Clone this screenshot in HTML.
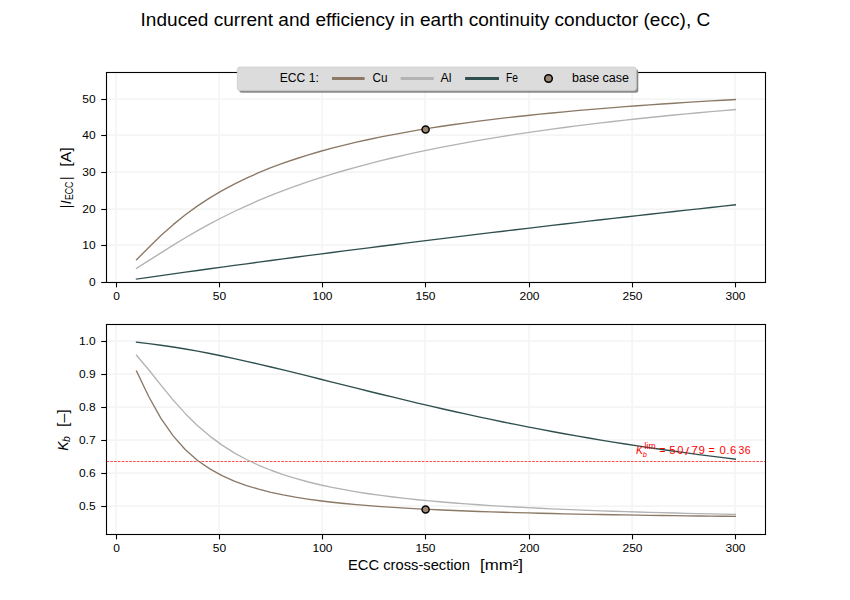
<!DOCTYPE html><html><head><meta charset="utf-8"><style>html,body{margin:0;padding:0;background:#fff;}svg{display:block;}text{font-family:"Liberation Sans",sans-serif;}</style></head><body>
<svg width="850" height="600" viewBox="0 0 850 600">
<rect width="850" height="600" fill="#fff"/>
<text x="425.4" y="26.2" font-size="17.5" text-anchor="middle" textLength="569.7" lengthAdjust="spacingAndGlyphs" fill="#000">Induced current and efficiency in earth continuity conductor (ecc), C</text>
<line x1="116.1" y1="72" x2="116.1" y2="283" stroke="#f5f5f5" stroke-width="1.8"/>
<line x1="219.1" y1="72" x2="219.1" y2="283" stroke="#f5f5f5" stroke-width="1.8"/>
<line x1="322.1" y1="72" x2="322.1" y2="283" stroke="#f5f5f5" stroke-width="1.8"/>
<line x1="425.1" y1="72" x2="425.1" y2="283" stroke="#f5f5f5" stroke-width="1.8"/>
<line x1="529.1" y1="72" x2="529.1" y2="283" stroke="#f5f5f5" stroke-width="1.8"/>
<line x1="632.1" y1="72" x2="632.1" y2="283" stroke="#f5f5f5" stroke-width="1.8"/>
<line x1="735.1" y1="72" x2="735.1" y2="283" stroke="#f5f5f5" stroke-width="1.8"/>
<line x1="106" y1="282.1" x2="766" y2="282.1" stroke="#f5f5f5" stroke-width="1.8"/>
<line x1="106" y1="245.1" x2="766" y2="245.1" stroke="#f5f5f5" stroke-width="1.8"/>
<line x1="106" y1="209.1" x2="766" y2="209.1" stroke="#f5f5f5" stroke-width="1.8"/>
<line x1="106" y1="172.1" x2="766" y2="172.1" stroke="#f5f5f5" stroke-width="1.8"/>
<line x1="106" y1="135.1" x2="766" y2="135.1" stroke="#f5f5f5" stroke-width="1.8"/>
<line x1="106" y1="99.1" x2="766" y2="99.1" stroke="#f5f5f5" stroke-width="1.8"/>
<path d="M136.49,259.78 L148.71,247.51 L160.94,235.58 L173.16,224.63 L185.38,214.73 L197.60,205.83 L209.82,197.82 L222.05,190.59 L234.27,184.05 L246.49,178.11 L258.71,172.69 L270.93,167.73 L283.15,163.18 L295.38,158.99 L307.60,155.11 L319.82,151.52 L332.04,148.19 L344.26,145.09 L356.48,142.19 L368.71,139.48 L380.93,136.94 L393.15,134.55 L405.37,132.30 L417.59,130.18 L429.81,128.18 L442.04,126.29 L454.26,124.50 L466.48,122.80 L478.70,121.19 L490.92,119.65 L503.14,118.19 L515.37,116.79 L527.59,115.46 L539.81,114.19 L552.03,112.98 L564.25,111.82 L576.47,110.70 L588.70,109.63 L600.92,108.61 L613.14,107.62 L625.36,106.67 L637.58,105.76 L649.80,104.88 L662.03,104.04 L674.25,103.22 L686.47,102.44 L698.69,101.68 L710.91,100.94 L723.14,100.24 L735.36,99.55" fill="none" stroke="#8b7865" stroke-width="1.35" stroke-linecap="square" stroke-linejoin="round"/>
<path d="M136.49,268.38 L148.71,260.69 L160.94,252.85 L173.16,245.14 L185.38,237.71 L197.60,230.61 L209.82,223.87 L222.05,217.51 L234.27,211.49 L246.49,205.83 L258.71,200.48 L270.93,195.44 L283.15,190.68 L295.38,186.18 L307.60,181.93 L319.82,177.91 L332.04,174.09 L344.26,170.48 L356.48,167.05 L368.71,163.78 L380.93,160.68 L393.15,157.72 L405.37,154.90 L417.59,152.21 L429.81,149.64 L442.04,147.18 L454.26,144.83 L466.48,142.58 L478.70,140.42 L490.92,138.34 L503.14,136.35 L515.37,134.44 L527.59,132.60 L539.81,130.83 L552.03,129.13 L564.25,127.49 L576.47,125.90 L588.70,124.38 L600.92,122.90 L613.14,121.48 L625.36,120.10 L637.58,118.77 L649.80,117.48 L662.03,116.23 L674.25,115.02 L686.47,113.85 L698.69,112.72 L710.91,111.61 L723.14,110.55 L735.36,109.51" fill="none" stroke="#b3b3b3" stroke-width="1.35" stroke-linecap="square" stroke-linejoin="round"/>
<path d="M136.49,279.08 L148.71,277.31 L160.94,275.58 L173.16,273.86 L185.38,272.16 L197.60,270.46 L209.82,268.78 L222.05,267.11 L234.27,265.45 L246.49,263.80 L258.71,262.16 L270.93,260.52 L283.15,258.90 L295.38,257.29 L307.60,255.69 L319.82,254.09 L332.04,252.51 L344.26,250.93 L356.48,249.36 L368.71,247.80 L380.93,246.25 L393.15,244.71 L405.37,243.18 L417.59,241.66 L429.81,240.14 L442.04,238.64 L454.26,237.14 L466.48,235.65 L478.70,234.17 L490.92,232.69 L503.14,231.23 L515.37,229.77 L527.59,228.32 L539.81,226.88 L552.03,225.44 L564.25,224.02 L576.47,222.60 L588.70,221.19 L600.92,219.78 L613.14,218.39 L625.36,217.00 L637.58,215.62 L649.80,214.24 L662.03,212.88 L674.25,211.52 L686.47,210.16 L698.69,208.82 L710.91,207.48 L723.14,206.15 L735.36,204.82" fill="none" stroke="#2f4f4f" stroke-width="1.35" stroke-linecap="square" stroke-linejoin="round"/>
<circle cx="425.59976489028213" cy="129.5" r="3.55" fill="#9a8670" stroke="#000" stroke-width="1.5"/>
<rect x="106.5" y="72.5" width="659" height="210" fill="none" stroke="#000" stroke-width="1.1"/>
<line x1="116.5" y1="282.5" x2="116.5" y2="287.4" stroke="#000" stroke-width="1.1"/>
<line x1="219.5" y1="282.5" x2="219.5" y2="287.4" stroke="#000" stroke-width="1.1"/>
<line x1="322.5" y1="282.5" x2="322.5" y2="287.4" stroke="#000" stroke-width="1.1"/>
<line x1="425.5" y1="282.5" x2="425.5" y2="287.4" stroke="#000" stroke-width="1.1"/>
<line x1="529.5" y1="282.5" x2="529.5" y2="287.4" stroke="#000" stroke-width="1.1"/>
<line x1="632.5" y1="282.5" x2="632.5" y2="287.4" stroke="#000" stroke-width="1.1"/>
<line x1="735.5" y1="282.5" x2="735.5" y2="287.4" stroke="#000" stroke-width="1.1"/>
<line x1="101.2" y1="282.5" x2="106.5" y2="282.5" stroke="#000" stroke-width="1.1"/>
<line x1="101.2" y1="245.5" x2="106.5" y2="245.5" stroke="#000" stroke-width="1.1"/>
<line x1="101.2" y1="209.5" x2="106.5" y2="209.5" stroke="#000" stroke-width="1.1"/>
<line x1="101.2" y1="172.5" x2="106.5" y2="172.5" stroke="#000" stroke-width="1.1"/>
<line x1="101.2" y1="135.5" x2="106.5" y2="135.5" stroke="#000" stroke-width="1.1"/>
<line x1="101.2" y1="99.5" x2="106.5" y2="99.5" stroke="#000" stroke-width="1.1"/>
<line x1="116.1" y1="324" x2="116.1" y2="535" stroke="#f5f5f5" stroke-width="1.8"/>
<line x1="219.1" y1="324" x2="219.1" y2="535" stroke="#f5f5f5" stroke-width="1.8"/>
<line x1="322.1" y1="324" x2="322.1" y2="535" stroke="#f5f5f5" stroke-width="1.8"/>
<line x1="425.1" y1="324" x2="425.1" y2="535" stroke="#f5f5f5" stroke-width="1.8"/>
<line x1="529.1" y1="324" x2="529.1" y2="535" stroke="#f5f5f5" stroke-width="1.8"/>
<line x1="632.1" y1="324" x2="632.1" y2="535" stroke="#f5f5f5" stroke-width="1.8"/>
<line x1="735.1" y1="324" x2="735.1" y2="535" stroke="#f5f5f5" stroke-width="1.8"/>
<line x1="106" y1="506.1" x2="766" y2="506.1" stroke="#f5f5f5" stroke-width="1.8"/>
<line x1="106" y1="473.1" x2="766" y2="473.1" stroke="#f5f5f5" stroke-width="1.8"/>
<line x1="106" y1="440.1" x2="766" y2="440.1" stroke="#f5f5f5" stroke-width="1.8"/>
<line x1="106" y1="407.1" x2="766" y2="407.1" stroke="#f5f5f5" stroke-width="1.8"/>
<line x1="106" y1="374.1" x2="766" y2="374.1" stroke="#f5f5f5" stroke-width="1.8"/>
<line x1="106" y1="341.1" x2="766" y2="341.1" stroke="#f5f5f5" stroke-width="1.8"/>
<line x1="106.5" y1="461.5" x2="765.5" y2="461.5" stroke="#ff0000" stroke-width="0.7" stroke-dasharray="2.6,1.2"/>
<path d="M136.49,371.16 L148.71,396.47 L160.94,418.36 L173.16,435.92 L185.38,449.68 L197.60,460.43 L209.82,468.89 L222.05,475.64 L234.27,481.08 L246.49,485.53 L258.71,489.21 L270.93,492.30 L283.15,494.91 L295.38,497.15 L307.60,499.07 L319.82,500.74 L332.04,502.21 L344.26,503.50 L356.48,504.65 L368.71,505.67 L380.93,506.58 L393.15,507.41 L405.37,508.16 L417.59,508.84 L429.81,509.45 L442.04,510.02 L454.26,510.54 L466.48,511.02 L478.70,511.46 L490.92,511.87 L503.14,512.25 L515.37,512.61 L527.59,512.94 L539.81,513.25 L552.03,513.53 L564.25,513.81 L576.47,514.06 L588.70,514.30 L600.92,514.53 L613.14,514.74 L625.36,514.94 L637.58,515.14 L649.80,515.32 L662.03,515.49 L674.25,515.65 L686.47,515.81 L698.69,515.96 L710.91,516.10 L723.14,516.24 L735.36,516.37" fill="none" stroke="#8b7865" stroke-width="1.35" stroke-linecap="square" stroke-linejoin="round"/>
<path d="M136.49,355.31 L148.71,369.72 L160.94,385.16 L173.16,400.08 L185.38,413.67 L197.60,425.68 L209.82,436.11 L222.05,445.10 L234.27,452.84 L246.49,459.50 L258.71,465.26 L270.93,470.25 L283.15,474.60 L295.38,478.41 L307.60,481.76 L319.82,484.72 L332.04,487.36 L344.26,489.71 L356.48,491.82 L368.71,493.72 L380.93,495.44 L393.15,496.99 L405.37,498.41 L417.59,499.71 L429.81,500.89 L442.04,501.99 L454.26,502.99 L466.48,503.92 L478.70,504.78 L490.92,505.58 L503.14,506.32 L515.37,507.02 L527.59,507.66 L539.81,508.27 L552.03,508.84 L564.25,509.37 L576.47,509.88 L588.70,510.35 L600.92,510.80 L613.14,511.22 L625.36,511.62 L637.58,512.00 L649.80,512.36 L662.03,512.70 L674.25,513.03 L686.47,513.34 L698.69,513.63 L710.91,513.92 L723.14,514.19 L735.36,514.44" fill="none" stroke="#b3b3b3" stroke-width="1.35" stroke-linecap="square" stroke-linejoin="round"/>
<path d="M136.49,342.23 L148.71,343.61 L160.94,345.21 L173.16,347.02 L185.38,349.02 L197.60,351.20 L209.82,353.53 L222.05,356.01 L234.27,358.61 L246.49,361.32 L258.71,364.12 L270.93,367.00 L283.15,369.94 L295.38,372.93 L307.60,375.96 L319.82,379.01 L332.04,382.07 L344.26,385.13 L356.48,388.18 L368.71,391.22 L380.93,394.23 L393.15,397.21 L405.37,400.16 L417.59,403.07 L429.81,405.93 L442.04,408.74 L454.26,411.50 L466.48,414.20 L478.70,416.85 L490.92,419.44 L503.14,421.97 L515.37,424.45 L527.59,426.86 L539.81,429.21 L552.03,431.50 L564.25,433.73 L576.47,435.91 L588.70,438.02 L600.92,440.08 L613.14,442.08 L625.36,444.02 L637.58,445.91 L649.80,447.74 L662.03,449.53 L674.25,451.26 L686.47,452.94 L698.69,454.57 L710.91,456.16 L723.14,457.70 L735.36,459.20" fill="none" stroke="#2f4f4f" stroke-width="1.35" stroke-linecap="square" stroke-linejoin="round"/>
<circle cx="425.59976489028213" cy="509.5" r="3.55" fill="#9a8670" stroke="#000" stroke-width="1.5"/>
<rect x="106.5" y="324.5" width="659" height="210" fill="none" stroke="#000" stroke-width="1.1"/>
<line x1="116.5" y1="534.5" x2="116.5" y2="539.4" stroke="#000" stroke-width="1.1"/>
<line x1="219.5" y1="534.5" x2="219.5" y2="539.4" stroke="#000" stroke-width="1.1"/>
<line x1="322.5" y1="534.5" x2="322.5" y2="539.4" stroke="#000" stroke-width="1.1"/>
<line x1="425.5" y1="534.5" x2="425.5" y2="539.4" stroke="#000" stroke-width="1.1"/>
<line x1="529.5" y1="534.5" x2="529.5" y2="539.4" stroke="#000" stroke-width="1.1"/>
<line x1="632.5" y1="534.5" x2="632.5" y2="539.4" stroke="#000" stroke-width="1.1"/>
<line x1="735.5" y1="534.5" x2="735.5" y2="539.4" stroke="#000" stroke-width="1.1"/>
<line x1="101.2" y1="506.5" x2="106.5" y2="506.5" stroke="#000" stroke-width="1.1"/>
<line x1="101.2" y1="473.5" x2="106.5" y2="473.5" stroke="#000" stroke-width="1.1"/>
<line x1="101.2" y1="440.5" x2="106.5" y2="440.5" stroke="#000" stroke-width="1.1"/>
<line x1="101.2" y1="407.5" x2="106.5" y2="407.5" stroke="#000" stroke-width="1.1"/>
<line x1="101.2" y1="374.5" x2="106.5" y2="374.5" stroke="#000" stroke-width="1.1"/>
<line x1="101.2" y1="341.5" x2="106.5" y2="341.5" stroke="#000" stroke-width="1.1"/>
<text transform="translate(116.5,300.1) scale(1.1,1)" font-size="10.9" text-anchor="middle" fill="#000">0</text>
<text transform="translate(116.5,552.0) scale(1.1,1)" font-size="10.9" text-anchor="middle" fill="#000">0</text>
<text transform="translate(219.5,300.1) scale(1.1,1)" font-size="10.9" text-anchor="middle" fill="#000">50</text>
<text transform="translate(219.5,552.0) scale(1.1,1)" font-size="10.9" text-anchor="middle" fill="#000">50</text>
<text transform="translate(322.5,300.1) scale(1.1,1)" font-size="10.9" text-anchor="middle" fill="#000">100</text>
<text transform="translate(322.5,552.0) scale(1.1,1)" font-size="10.9" text-anchor="middle" fill="#000">100</text>
<text transform="translate(425.5,300.1) scale(1.1,1)" font-size="10.9" text-anchor="middle" fill="#000">150</text>
<text transform="translate(425.5,552.0) scale(1.1,1)" font-size="10.9" text-anchor="middle" fill="#000">150</text>
<text transform="translate(529.5,300.1) scale(1.1,1)" font-size="10.9" text-anchor="middle" fill="#000">200</text>
<text transform="translate(529.5,552.0) scale(1.1,1)" font-size="10.9" text-anchor="middle" fill="#000">200</text>
<text transform="translate(632.5,300.1) scale(1.1,1)" font-size="10.9" text-anchor="middle" fill="#000">250</text>
<text transform="translate(632.5,552.0) scale(1.1,1)" font-size="10.9" text-anchor="middle" fill="#000">250</text>
<text transform="translate(735.5,300.1) scale(1.1,1)" font-size="10.9" text-anchor="middle" fill="#000">300</text>
<text transform="translate(735.5,552.0) scale(1.1,1)" font-size="10.9" text-anchor="middle" fill="#000">300</text>
<text transform="translate(95.6,286.4) scale(1.1,1)" font-size="10.9" text-anchor="end" fill="#000">0</text>
<text transform="translate(95.6,249.4) scale(1.1,1)" font-size="10.9" text-anchor="end" fill="#000">10</text>
<text transform="translate(95.6,213.4) scale(1.1,1)" font-size="10.9" text-anchor="end" fill="#000">20</text>
<text transform="translate(95.6,176.4) scale(1.1,1)" font-size="10.9" text-anchor="end" fill="#000">30</text>
<text transform="translate(95.6,139.4) scale(1.1,1)" font-size="10.9" text-anchor="end" fill="#000">40</text>
<text transform="translate(95.6,103.4) scale(1.1,1)" font-size="10.9" text-anchor="end" fill="#000">50</text>
<text transform="translate(95.6,510.4) scale(1.1,1)" font-size="10.9" text-anchor="end" fill="#000">0.5</text>
<text transform="translate(95.6,477.4) scale(1.1,1)" font-size="10.9" text-anchor="end" fill="#000">0.6</text>
<text transform="translate(95.6,444.4) scale(1.1,1)" font-size="10.9" text-anchor="end" fill="#000">0.7</text>
<text transform="translate(95.6,411.4) scale(1.1,1)" font-size="10.9" text-anchor="end" fill="#000">0.8</text>
<text transform="translate(95.6,378.4) scale(1.1,1)" font-size="10.9" text-anchor="end" fill="#000">0.9</text>
<text transform="translate(95.6,345.4) scale(1.1,1)" font-size="10.9" text-anchor="end" fill="#000">1.0</text>
<text x="348.0" y="570.1" font-size="13.9" textLength="122" lengthAdjust="spacingAndGlyphs" fill="#000">ECC cross-section</text>
<text x="480.0" y="570.1" font-size="13.9" textLength="43" lengthAdjust="spacingAndGlyphs" fill="#000">[mm²]</text>
<g transform="translate(71.0,208.35) rotate(-90)">
<text x="0" y="0" font-size="13.9" fill="#000">|</text>
<text x="4" y="0" font-size="13.9" font-style="italic" fill="#000">I</text>
<text x="8.3" y="1.5" font-size="10.2" textLength="18.5" lengthAdjust="spacingAndGlyphs" fill="#000">ECC</text>
<text x="28.4" y="0" font-size="13.9" fill="#000">|</text>
<text x="41.6" y="0" font-size="13.9" textLength="19.5" lengthAdjust="spacingAndGlyphs" fill="#000">[A]</text>
</g>
<g transform="translate(68.0,450.8) rotate(-90)">
<text x="0" y="0" font-size="13.9" font-style="italic" fill="#000">K</text>
<text x="8.9" y="1.5" font-size="10.5" font-style="italic" fill="#000">b</text>
<text x="23.8" y="0" font-size="13.9" textLength="17.7" lengthAdjust="spacingAndGlyphs" fill="#000">[–]</text>
</g>
<text x="636" y="454.2" font-size="10.5" font-style="italic" fill="#ff0000">K</text>
<text x="642.7" y="457.4" font-size="7.4" font-style="italic" fill="#ff0000">b</text>
<text x="644.6" y="449.3" font-size="8.6" fill="#ff0000">lim</text>
<text transform="translate(662.35,454.2) scale(1.0,1)" font-size="10.5" text-anchor="middle" fill="#ff0000">=</text>
<text transform="translate(672.4,454.2) scale(1.1,1)" font-size="10.5" text-anchor="middle" fill="#ff0000">5</text>
<text transform="translate(680.35,454.2) scale(1.05,1)" font-size="10.5" text-anchor="middle" fill="#ff0000">0</text>
<text transform="translate(687.05,455.2) scale(1.2,1)" font-size="11.5" text-anchor="middle" fill="#ff0000">/</text>
<text transform="translate(694.6,454.2) scale(1.15,1)" font-size="10.5" text-anchor="middle" fill="#ff0000">7</text>
<text transform="translate(701.7,454.2) scale(1.1,1)" font-size="10.5" text-anchor="middle" fill="#ff0000">9</text>
<text transform="translate(711.45,454.2) scale(1.0,1)" font-size="10.5" text-anchor="middle" fill="#ff0000">=</text>
<text transform="translate(722.55,454.2) scale(1.08,1)" font-size="10.5" text-anchor="middle" fill="#ff0000">0</text>
<text transform="translate(728.0,454.2) scale(1.0,1)" font-size="10.5" text-anchor="middle" fill="#ff0000">.</text>
<text transform="translate(733.15,454.2) scale(1.08,1)" font-size="10.5" text-anchor="middle" fill="#ff0000">6</text>
<text transform="translate(741.45,454.2) scale(1.0,1)" font-size="10.5" text-anchor="middle" fill="#ff0000">3</text>
<text transform="translate(747.75,454.2) scale(1.0,1)" font-size="10.5" text-anchor="middle" fill="#ff0000">6</text>
<rect x="239.3" y="69.3" width="399" height="23.5" rx="2.5" fill="#8a8a8a"/>
<rect x="237.3" y="67.1" width="399" height="23.5" rx="2.5" fill="#dcdcdc" stroke="#cdcdcd" stroke-width="0.8"/>
<text x="279.8" y="82" font-size="12" textLength="39" lengthAdjust="spacingAndGlyphs" fill="#000">ECC 1:</text>
<text x="372.5" y="82" font-size="12" textLength="15" lengthAdjust="spacingAndGlyphs" fill="#000">Cu</text>
<text x="440.5" y="82" font-size="12" textLength="11" lengthAdjust="spacingAndGlyphs" fill="#000">Al</text>
<text x="506" y="82" font-size="12" textLength="12" lengthAdjust="spacingAndGlyphs" fill="#000">Fe</text>
<text x="572" y="82" font-size="12" textLength="57" lengthAdjust="spacingAndGlyphs" fill="#000">base case</text>
<line x1="332" y1="78.4" x2="364.6" y2="78.4" stroke="#8b7865" stroke-width="3"/>
<line x1="400.7" y1="78.4" x2="433.7" y2="78.4" stroke="#b3b3b3" stroke-width="3"/>
<line x1="465.1" y1="78.4" x2="499" y2="78.4" stroke="#2f4f4f" stroke-width="3"/>
<circle cx="548.5" cy="78.5" r="3.8" fill="#9a8670" stroke="#000" stroke-width="1.5"/>
</svg></body></html>
